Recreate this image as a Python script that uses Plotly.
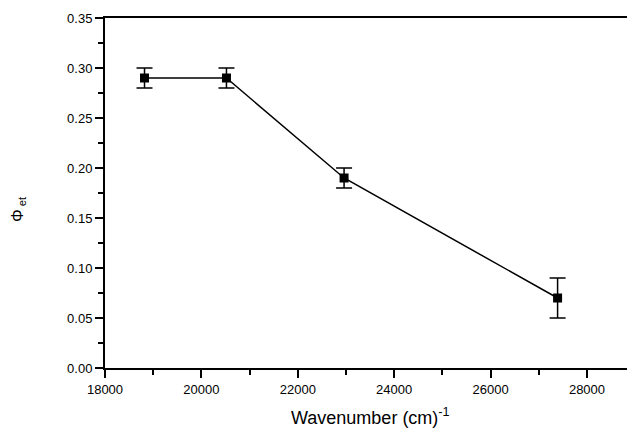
import plotly.graph_objects as go

wavenumber = [18820, 20520, 22960, 27390]
phi_et = [0.29, 0.29, 0.19, 0.07]
phi_err = [0.01, 0.01, 0.01, 0.02]

x_ticks = [18000, 20000, 22000, 24000, 26000, 28000]
y_ticks = [0.00, 0.05, 0.10, 0.15, 0.20, 0.25, 0.30, 0.35]

fig = go.Figure()
fig.add_trace(go.Scatter(
    x=wavenumber, y=phi_et,
    mode="lines+markers",
    line=dict(color="black", width=1.5),
    marker=dict(symbol="square", size=9, color="black"),
    error_y=dict(type="data", array=phi_err, visible=True,
                 color="black", thickness=1.5, width=8),
    showlegend=False,
))

font = "Liberation Sans, Arial, sans-serif"
fig.update_layout(
    width=627, height=428,
    margin=dict(l=105, r=0, t=18, b=60),
    paper_bgcolor="white", plot_bgcolor="white",
    font=dict(family=font, size=13, color="black"),
    xaxis=dict(
        range=[18000, 28830], tickvals=x_ticks,
        ticktext=[str(v) for v in x_ticks],
        showgrid=False, zeroline=False,
        showline=True, linecolor="black", linewidth=2, mirror=True,
        ticks="outside", ticklen=8, tickwidth=1.5, tickcolor="black",
        minor=dict(ticks="outside", dtick=1000, tick0=18000, ticklen=5,
                   tickwidth=1.5, tickcolor="black", showgrid=False),
        tickfont=dict(size=13),
    ),
    yaxis=dict(
        range=[0, 0.35], tickvals=y_ticks,
        ticktext=["%.2f" % v for v in y_ticks],
        showgrid=False, zeroline=False,
        showline=True, linecolor="black", linewidth=2,
        ticks="outside", ticklen=8, tickwidth=1.5, tickcolor="black",
        minor=dict(ticks="outside", dtick=0.025, tick0=0, ticklen=5,
                   tickwidth=1.5, tickcolor="black", showgrid=False),
        tickfont=dict(size=13),
    ),
    annotations=[
        dict(text="Wavenumber (cm)<sup>-1</sup>", xref="paper", yref="paper",
             x=(370 - 105) / 522, y=-(416 - 368) / 350,
             xanchor="center", yanchor="middle", showarrow=False,
             font=dict(size=18)),
        dict(text="Φ<sub> et</sub>", xref="paper", yref="paper",
             x=-(105 - 18) / 522, y=(368 - 209) / 350,
             xanchor="center", yanchor="middle", showarrow=False,
             textangle=-90, font=dict(size=16)),
    ],
)

fig.write_html("out.html")
